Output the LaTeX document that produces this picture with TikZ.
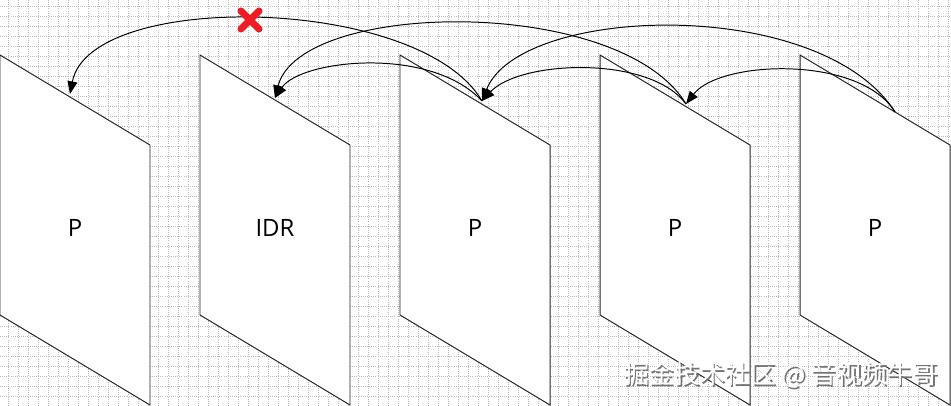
\documentclass[tikz,border=0pt]{standalone}
\usepackage{fontspec}
\setmainfont{Open Sans}
\newfontfamily\cjk{Noto Sans CJK SC}
\usetikzlibrary{arrows.meta}
\definecolor{gridgray}{HTML}{BDBDBD}
\definecolor{crossred}{HTML}{EE1C24}

\begin{document}
\begin{tikzpicture}[x=0.025cm, y=-0.025cm,
  every node/.style={font=\fontsize{17}{20}\selectfont},
  gridline/.style={gridgray, line width=0.4pt, dash pattern=on 0.6pt off 0.9pt},
  frame/.style={draw=black!85, fill=white, line width=0.7pt},
  ref/.style={draw=black, line width=0.7pt, -{Triangle[length=9pt,width=7pt]}},
  crossline/.style={crossred, line width=5pt, line cap=round},
  watermark/.style={font=\cjk\fontsize{18}{21}\selectfont},
]
\useasboundingbox (0,0) rectangle (951,406);
\fill[white] (0,0) rectangle (951,406);
% background grid
\foreach \gx in {8,18,...,948} \draw[gridline] (\gx,0) -- (\gx,406);
\foreach \gy in {6,16,...,406} \draw[gridline] (0,\gy) -- (951,\gy);

% frames
\foreach \i/\lbl [count=\n] in {0/P,200/IDR,400/P,600/P,800/P} {
  \draw[frame] (\i,55) -- (\i+150,145) -- (\i+150,405) -- (\i,315) -- cycle;
  \node (lbl\n) at (\i+75,228) {\lbl};
}

\coordinate (in1) at (70,94);
\coordinate (in2) at (275,98);
\coordinate (pt3) at (482,101);
\coordinate (pt4) at (686,104);
\coordinate (pt5) at (895,112);

% references
\draw[ref] (pt3) .. controls (420,-5) and (90,-10) .. (in1);
\draw[ref] (pt3) .. controls (430,45) and (300,60) .. (in2);
\draw[ref] (pt4) .. controls (620,-5) and (300,0) .. (in2);
\draw[ref] (pt4) .. controls (650,55) and (520,60) .. (pt3);
\draw[ref] (pt5) .. controls (820,-5) and (520,5) .. (pt3);
\draw[ref] (pt5) .. controls (860,55) and (720,60) .. (pt4);

% forbidden reference
\coordinate (cross) at (250,20);
\draw[crossline] ([shift={(-9,-9)}]cross) -- ([shift={(9,9)}]cross);
\draw[crossline] ([shift={(-9,9)}]cross) -- ([shift={(9,-9)}]cross);

\node[watermark, text=black!55] (wmshadow) at (782.5,376.5) {掘金技术社区 @ 音视频牛哥};
\node[watermark, text=white] (wm) at (781,375) {掘金技术社区 @ 音视频牛哥};
\end{tikzpicture}
\end{document}
